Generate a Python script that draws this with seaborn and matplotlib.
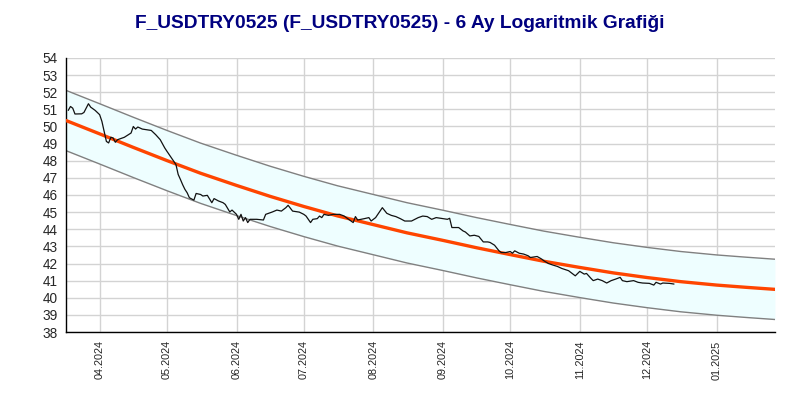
import matplotlib
matplotlib.use("Agg")
import matplotlib.pyplot as plt
import matplotlib.dates as mdates
import seaborn as sns
import pandas as pd

# ---- data ----
price_dates = [
    "2024-03-18", "2024-03-19", "2024-03-20", "2024-03-21", "2024-03-24", "2024-03-25", "2024-03-27", "2024-03-28", "2024-03-30", "2024-04-01",
    "2024-04-02", "2024-04-03", "2024-04-04", "2024-04-05", "2024-04-06", "2024-04-07", "2024-04-08", "2024-04-09", "2024-04-12", "2024-04-15",
    "2024-04-16", "2024-04-17", "2024-04-18", "2024-04-20", "2024-04-22", "2024-04-24", "2024-04-26", "2024-04-28", "2024-04-30", "2024-05-01",
    "2024-05-03", "2024-05-05", "2024-05-06", "2024-05-07", "2024-05-08", "2024-05-09", "2024-05-10", "2024-05-11", "2024-05-13", "2024-05-14",
    "2024-05-16", "2024-05-17", "2024-05-19", "2024-05-21", "2024-05-22", "2024-05-24", "2024-05-26", "2024-05-27", "2024-05-29", "2024-05-30",
    "2024-06-01", "2024-06-02", "2024-06-03", "2024-06-04", "2024-06-05", "2024-06-06", "2024-06-07", "2024-06-10", "2024-06-13", "2024-06-14",
    "2024-06-17", "2024-06-19", "2024-06-21", "2024-06-23", "2024-06-24", "2024-06-26", "2024-06-29", "2024-07-01", "2024-07-02", "2024-07-03",
    "2024-07-04", "2024-07-05", "2024-07-07", "2024-07-08", "2024-07-09", "2024-07-10", "2024-07-12", "2024-07-14", "2024-07-17", "2024-07-19",
    "2024-07-22", "2024-07-23", "2024-07-24", "2024-07-25", "2024-07-28", "2024-07-30", "2024-07-31", "2024-08-02", "2024-08-04", "2024-08-05",
    "2024-08-07", "2024-08-09", "2024-08-11", "2024-08-13", "2024-08-15", "2024-08-18", "2024-08-21", "2024-08-23", "2024-08-25", "2024-08-27",
    "2024-08-29", "2024-09-01", "2024-09-03", "2024-09-04", "2024-09-05", "2024-09-08", "2024-09-10", "2024-09-11", "2024-09-13", "2024-09-15",
    "2024-09-17", "2024-09-19", "2024-09-21", "2024-09-22", "2024-09-24", "2024-09-26", "2024-09-27", "2024-09-29", "2024-10-01", "2024-10-02",
    "2024-10-03", "2024-10-05", "2024-10-07", "2024-10-09", "2024-10-10", "2024-10-13", "2024-10-15", "2024-10-16", "2024-10-18", "2024-10-20",
    "2024-10-22", "2024-10-24", "2024-10-27", "2024-10-29", "2024-10-30", "2024-11-01", "2024-11-03", "2024-11-04", "2024-11-06", "2024-11-07",
    "2024-11-09", "2024-11-11", "2024-11-13", "2024-11-15", "2024-11-17", "2024-11-19", "2024-11-20", "2024-11-22", "2024-11-25", "2024-11-27",
    "2024-11-29", "2024-12-02", "2024-12-04", "2024-12-05", "2024-12-07", "2024-12-08", "2024-12-11", "2024-12-13",
]
price_values = [
    50.94, 51.17, 51.07, 50.73, 50.74, 50.82, 51.33, 51.13, 50.94, 50.69,
    50.30, 49.72, 49.13, 49.04, 49.37, 49.33, 49.08, 49.23, 49.37, 49.62,
    50.00, 49.85, 49.97, 49.85, 49.81, 49.77, 49.52, 49.23, 48.75, 48.55,
    48.17, 47.78, 47.20, 46.91, 46.60, 46.33, 46.13, 45.84, 45.70, 46.09,
    46.03, 45.94, 45.98, 45.55, 45.79, 45.65, 45.55, 45.45, 45.01, 45.12,
    44.87, 44.58, 44.87, 44.48, 44.68, 44.39, 44.58, 44.58, 44.54, 44.87,
    45.01, 45.12, 45.06, 45.26, 45.40, 45.06, 45.00, 44.87, 44.77, 44.58,
    44.39, 44.58, 44.62, 44.77, 44.68, 44.87, 44.81, 44.87, 44.87, 44.77,
    44.48, 44.39, 44.74, 44.54, 44.62, 44.68, 44.48, 44.68, 45.06, 45.26,
    44.93, 44.81, 44.74, 44.62, 44.48, 44.48, 44.68, 44.77, 44.74, 44.58,
    44.68, 44.62, 44.58, 44.64, 44.10, 44.10, 43.90, 43.84, 43.61, 43.65,
    43.58, 43.26, 43.26, 43.23, 43.07, 42.74, 42.64, 42.64, 42.70, 42.60,
    42.74, 42.60, 42.55, 42.45, 42.35, 42.41, 42.26, 42.16, 42.00, 41.91,
    41.83, 41.71, 41.58, 41.38, 41.28, 41.54, 41.38, 41.42, 41.13, 41.00,
    41.09, 41.00, 40.86, 41.00, 41.09, 41.19, 41.00, 40.94, 41.00, 40.90,
    40.86, 40.84, 40.74, 40.90, 40.80, 40.86, 40.84, 40.80,
]

trend_dates = [
    "2024-03-17", "2024-04-01", "2024-04-16", "2024-05-01", "2024-05-16", "2024-06-01", "2024-06-16",
    "2024-07-01", "2024-07-16", "2024-08-01", "2024-08-16", "2024-09-01", "2024-09-16", "2024-10-01",
    "2024-10-16", "2024-11-01", "2024-11-16", "2024-12-01", "2024-12-16", "2025-01-01", "2025-01-14",
    "2025-01-27",
]
trend_values = [
    50.35, 49.57, 48.78, 48.01, 47.27, 46.56, 45.92,
    45.33, 44.78, 44.27, 43.79, 43.35, 42.92, 42.52,
    42.13, 41.77, 41.45, 41.18, 40.94, 40.74, 40.61,
    40.49,
]
band_half_width = 1.76

month_ticks = ["2024-04-01", "2024-05-01", "2024-06-01", "2024-07-01", "2024-08-01",
               "2024-09-01", "2024-10-01", "2024-11-01", "2024-12-01", "2025-01-01"]
y_ticks = list(range(38, 55))

title = "F_USDTRY0525 (F_USDTRY0525) - 6 Ay Logaritmik Grafiği"

# ---- frames ----
price_df = pd.DataFrame({"date": pd.to_datetime(price_dates), "value": price_values})
trend_df = pd.DataFrame({"date": pd.to_datetime(trend_dates), "value": trend_values})
trend_df["upper"] = trend_df["value"] + band_half_width
trend_df["lower"] = trend_df["value"] - band_half_width

sns.set_style("white")
plt.rcParams["font.family"] = ["Liberation Sans", "DejaVu Sans"]

fig = plt.figure(figsize=(8, 4), dpi=100)
ax = fig.add_axes([0.0825, 0.17, 0.8862, 0.685])

ax.fill_between(trend_df["date"], trend_df["lower"], trend_df["upper"],
                color="#EEFEFF", zorder=1, linewidth=0)
sns.lineplot(data=trend_df, x="date", y="upper", ax=ax, color="#808080", linewidth=1.0, zorder=2)
sns.lineplot(data=trend_df, x="date", y="lower", ax=ax, color="#808080", linewidth=1.0, zorder=2)
sns.lineplot(data=trend_df, x="date", y="value", ax=ax, color="#FF4500", linewidth=2.4, zorder=3)
sns.lineplot(data=price_df, x="date", y="value", ax=ax, color="#111111", linewidth=0.9, zorder=4)

ax.set_xlim(pd.Timestamp("2024-03-17"), pd.Timestamp("2025-01-27"))
ax.set_ylim(38, 54)
ax.set_yticks(y_ticks)
ax.set_xticks(pd.to_datetime(month_ticks))
ax.xaxis.set_major_formatter(mdates.DateFormatter("%m.%Y"))
ax.tick_params(axis="x", labelrotation=90, labelsize=7.8, length=4, width=1, color="black", pad=2, direction="out")
ax.tick_params(axis="y", labelsize=9.8, length=4, width=1, color="black", pad=2, direction="out")
ax.grid(True, color="#D3D3D3", linewidth=1.0, zorder=0)
ax.set_axisbelow(True)
for s in ["top", "right"]:
    ax.spines[s].set_visible(False)
for s in ["left", "bottom"]:
    ax.spines[s].set_color("black")
    ax.spines[s].set_linewidth(1.0)
ax.set_xlabel("")
ax.set_ylabel("")
ax.set_facecolor("white")

fig.text(0.5, 0.942, title, ha="center", va="center", fontsize=13.8,
         fontweight="bold", color="#000080")

fig.savefig("out.png", dpi=100)
